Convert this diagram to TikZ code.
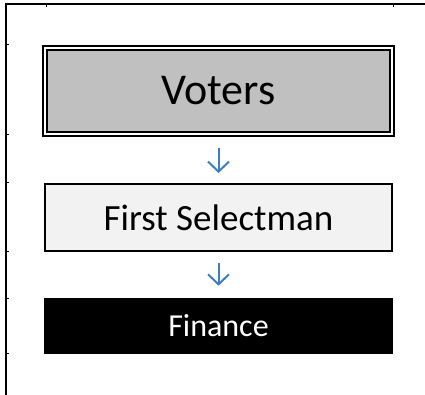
\documentclass[tikz,border=0pt]{standalone}
\usepackage{fontspec}
\setmainfont{Carlito}
\usetikzlibrary{arrows.meta}
\definecolor{voterfill}{RGB}{192,192,192}
\definecolor{selectfill}{RGB}{242,242,242}
\definecolor{arrowblue}{RGB}{61,125,196}
\tikzset{
	orgbox/.style={draw=black,line width=2pt,minimum width=347pt,inner sep=0pt},
	orgarrow/.style={draw=arrowblue,line width=2pt,-{Straight Barb[width=21pt,length=10pt]}}
}
\begin{document}
\begin{tikzpicture}[x=1pt,y=-1pt]
\useasboundingbox (0,0) rectangle (425,395);
\draw[line width=2pt] (6,395) -- (6,4) -- (425,4);
\foreach \ty in {45,135,183,251,298,353}
	\draw[line width=1pt] (6,\ty) -- (8.5,\ty);
\foreach \tx in {46,393}
	\draw[line width=1pt] (\tx,4) -- (\tx,7);
\node[orgbox,fill=voterfill,double=white,double distance=2pt,minimum height=86pt,font=\fontsize{44}{44}\selectfont] (voters) at (218.5,91) {Voters};
\node[orgbox,fill=selectfill,minimum height=67pt,font=\fontsize{37}{37}\selectfont] (first) at (218.5,217.5) {First Selectman};
\node[orgbox,draw=none,fill=black,text=white,minimum width=349pt,minimum height=56pt,font=\fontsize{32}{32}\selectfont] (finance) at (218.5,325.7) {Finance};
\draw[orgarrow,shorten <=13pt,shorten >=10pt] (voters) -- (first);
\draw[orgarrow,shorten <=11pt,shorten >=11pt] (first) -- (finance);
\end{tikzpicture}
\end{document}
